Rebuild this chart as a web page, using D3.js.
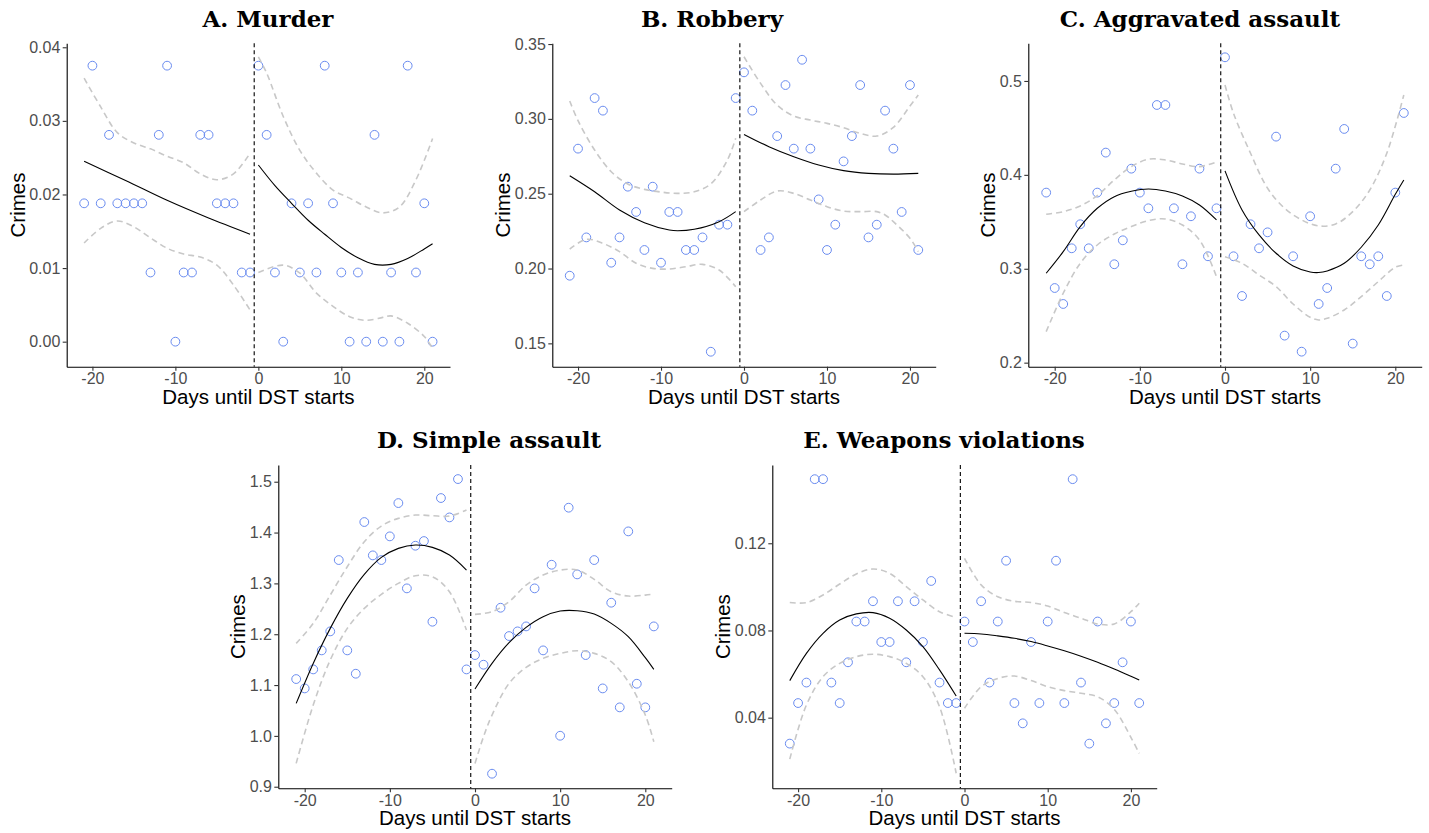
<!DOCTYPE html>
<html><head><meta charset="utf-8">
<script src="https://cdn.jsdelivr.net/npm/d3@7"></script>
<style>body{margin:0;background:#fff}</style>
</head><body><svg id="c" width="1429" height="833"></svg>
<script>
// ---------------- DATA ----------------
const days = [-21,-20,-19,-18,-17,-16,-15,-14,-13,-12,-11,-10,-9,-8,-7,-6,-5,-4,-3,-2,-1,
              0,1,2,3,4,5,6,7,8,9,10,11,12,13,14,15,16,17,18,19,20,21];
const xTicks = [-20,-10,0,10,20];
const cutoffDay = -0.5;

const murderCrimes = [0.0188,0.0375,0.0188,0.0281,0.0188,0.0188,0.0188,0.0188,0.0094,0.0281,0.0375,0,0.0094,0.0094,0.0281,0.0281,0.0188,0.0188,0.0188,0.0094,0.0094,
  0.0375,0.0281,0.0094,0,0.0188,0.0094,0.0188,0.0094,0.0375,0.0188,0.0094,0,0.0094,0,0.0281,0,0.0094,0,0.0375,0.0094,0.0188,0];
const robberyCrimes = [0.1952,0.2801,0.2208,0.3139,0.3055,0.2039,0.2208,0.2547,0.2378,0.2124,0.2547,0.2039,0.2378,0.2378,0.2124,0.2124,0.2208,0.1444,0.2293,0.2293,0.3139,
  0.3311,0.3055,0.2124,0.2208,0.2885,0.3226,0.2801,0.3395,0.2801,0.2462,0.2124,0.2293,0.2716,0.2885,0.3226,0.2208,0.2293,0.3055,0.2801,0.2378,0.3226,0.2124];
const aggCrimes = [0.3811,0.2795,0.2625,0.3218,0.3474,0.3218,0.3811,0.4237,0.3048,0.3303,0.4066,0.3811,0.3644,0.4744,0.4744,0.3644,0.3048,0.3559,0.4066,0.3133,0.3644,
  0.5252,0.3133,0.2710,0.3474,0.3218,0.3388,0.4407,0.2288,0.3133,0.2117,0.3559,0.2625,0.2795,0.4066,0.4489,0.2203,0.3133,0.3048,0.3133,0.2710,0.3811,0.4659];
const simpleCrimes = [1.1118,1.0934,1.1308,1.1682,1.2056,1.3459,1.1682,1.1223,1.4207,1.3551,1.3459,1.3925,1.4580,1.2902,1.3741,1.3833,1.2246,1.4679,1.4298,1.5052,1.1308,
  1.1590,1.1400,0.9256,1.2521,1.1964,1.2056,1.2154,1.2902,1.1682,1.3367,1.0003,1.4489,1.3177,1.1590,1.3459,1.0934,1.2620,1.0561,1.4023,1.1026,1.0561,1.2154];
const weaponsCrimes = [0.0281,0.0467,0.0561,0.1494,0.1494,0.0561,0.0467,0.0654,0.0841,0.0841,0.0934,0.0747,0.0747,0.0934,0.0654,0.0934,0.0747,0.1027,0.0561,0.0467,0.0467,
  0.0841,0.0747,0.0934,0.0561,0.0841,0.1120,0.0467,0.0374,0.0747,0.0467,0.0841,0.1120,0.0467,0.1494,0.0561,0.0281,0.0841,0.0374,0.0467,0.0654,0.0841,0.0467];

// fitted curves and confidence bounds, [day, value]
const murderFitPre  = [[-21,0.0245],[-16,0.0219],[-11,0.0192],[-6,0.0168],[-1,0.0146]];
const murderFitPost = [[0,0.0240],[2,0.0212],[4,0.0188],[6,0.0165],[8,0.0146],[10,0.0128],[12,0.0114],[14,0.0105],[16,0.0105],[18,0.0113],[20,0.0126],[21,0.0133]];
const murderHiPre   = [[-21,0.0358],[-19,0.0319],[-17,0.0284],[-15,0.0270],[-13,0.0262],[-11,0.0252],[-9,0.0243],[-7,0.0228],[-5,0.0220],[-3,0.0228],[-1,0.0256]];
const murderLoPre   = [[-21,0.0134],[-19,0.0154],[-17,0.0164],[-15,0.0156],[-13,0.0141],[-11,0.0127],[-9,0.0119],[-7,0.0115],[-5,0.0104],[-3,0.0077],[-1,0.0043]];
const murderHiPost  = [[0,0.0387],[1,0.0365],[3,0.0306],[5,0.0260],[7,0.0229],[9,0.0206],[11,0.0195],[13,0.0183],[15,0.0175],[17,0.0183],[19,0.0220],[21,0.0276]];
const murderLoPost  = [[0,0.0094],[3,0.0104],[5,0.0093],[7,0.0066],[9,0.0048],[11,0.0034],[13,0.0029],[15,0.0033],[16,0.0035],[18,0.0025],[20,0.0007],[21,-0.0009]];

const robberyFitPre  = [[-21,0.2620],[-18,0.2513],[-15,0.2391],[-12,0.2306],[-9,0.2257],[-8,0.2252],[-6,0.2262],[-3,0.2313],[-1,0.2380]];
const robberyFitPost = [[0,0.2896],[3,0.2814],[6,0.2747],[9,0.2692],[12,0.2654],[15,0.2636],[18,0.2631],[21,0.2636]];
const robberyHiPre   = [[-21,0.3119],[-20,0.2988],[-18,0.2792],[-16,0.2647],[-14,0.2565],[-12,0.2529],[-10,0.2511],[-8,0.2502],[-6,0.2513],[-4,0.2565],[-2,0.2725],[-1,0.2870]];
const robberyLoPre   = [[-21,0.2130],[-19,0.2195],[-17,0.2168],[-15,0.2113],[-13,0.2035],[-11,0.2001],[-9,0.1997],[-7,0.2012],[-5,0.2028],[-3,0.1990],[-1,0.1879]];
const robberyHiPost  = [[0,0.3415],[2,0.3237],[4,0.3092],[6,0.3019],[8,0.2992],[10,0.2970],[12,0.2941],[14,0.2903],[16,0.2885],[18,0.2943],[20,0.3086],[21,0.3159]];
const robberyLoPost  = [[0,0.2380],[2,0.2458],[4,0.2518],[6,0.2502],[8,0.2458],[10,0.2413],[12,0.2384],[14,0.2380],[16,0.2380],[17,0.2358],[18,0.2313],[20,0.2202],[21,0.2113]];

const aggFitPre  = [[-21,0.2952],[-19,0.3182],[-17,0.3449],[-15,0.3644],[-13,0.3768],[-11,0.3825],[-9,0.3850],[-7,0.3828],[-5,0.3775],[-3,0.3679],[-1,0.3520]];
const aggFitPost = [[0,0.4042],[2,0.3626],[4,0.3360],[6,0.3165],[8,0.3030],[10,0.2966],[11,0.2960],[12,0.2977],[14,0.3058],[16,0.3229],[18,0.3466],[20,0.3793],[21,0.3946]];
const aggHiPre   = [[-21,0.3580],[-19,0.3608],[-17,0.3669],[-15,0.3779],[-13,0.3946],[-11,0.4088],[-9,0.4166],[-7,0.4159],[-5,0.4116],[-3,0.4088],[-1,0.4137]];
const aggLoPre   = [[-21,0.2330],[-19,0.2739],[-17,0.3058],[-15,0.3253],[-13,0.3370],[-11,0.3449],[-9,0.3513],[-7,0.3530],[-5,0.3466],[-3,0.3307],[-1,0.2916]];
const aggHiPost  = [[0,0.4957],[1,0.4656],[3,0.4230],[5,0.3857],[7,0.3644],[9,0.3520],[11,0.3456],[13,0.3477],[15,0.3608],[17,0.3839],[19,0.4230],[21,0.4851]];
const aggLoPost  = [[0,0.3129],[2,0.3058],[4,0.2934],[6,0.2810],[8,0.2625],[10,0.2483],[11,0.2455],[12,0.2472],[14,0.2561],[16,0.2703],[18,0.2863],[20,0.3016],[21,0.3040]];

const simpleFitPre  = [[-21,1.0639],[-19,1.1426],[-17,1.2115],[-15,1.2705],[-13,1.3177],[-11,1.3511],[-9,1.3689],[-7,1.3754],[-5,1.3708],[-3,1.3557],[-1,1.3262]];
const simpleFitPost = [[0,1.0921],[2,1.1426],[4,1.1833],[6,1.2134],[8,1.2344],[10,1.2456],[12,1.2462],[14,1.2397],[16,1.2213],[18,1.1951],[20,1.1538],[21,1.1308]];
const simpleHiPre   = [[-21,1.1820],[-19,1.2213],[-17,1.2770],[-15,1.3328],[-13,1.3820],[-11,1.4128],[-9,1.4279],[-7,1.4344],[-5,1.4331],[-3,1.4325],[-1,1.4443]];
const simpleLoPre   = [[-21,0.9459],[-19,1.0607],[-17,1.1492],[-15,1.2115],[-13,1.2508],[-11,1.2784],[-9,1.3000],[-7,1.3151],[-5,1.3131],[-3,1.2836],[-1,1.2082]];
const simpleHiPost  = [[0,1.2390],[2,1.2443],[4,1.2639],[6,1.2967],[8,1.3164],[10,1.3262],[12,1.3262],[14,1.3079],[16,1.2836],[18,1.2751],[20,1.2770],[21,1.2790]];
const simpleLoPost  = [[0,0.9459],[1,0.9984],[2,1.0410],[4,1.1033],[6,1.1348],[8,1.1525],[10,1.1623],[12,1.1675],[14,1.1623],[16,1.1459],[18,1.1066],[20,1.0410],[21,0.9885]];

const weaponsFitPre  = [[-21,0.0570],[-19,0.0695],[-17,0.0787],[-15,0.0848],[-13,0.0876],[-11,0.0882],[-9,0.0856],[-7,0.0802],[-5,0.0726],[-3,0.0619],[-1,0.0499]];
const weaponsFitPost = [[0,0.0787],[2,0.0784],[4,0.0775],[6,0.0764],[8,0.0749],[10,0.0729],[12,0.0707],[14,0.0682],[16,0.0654],[18,0.0623],[20,0.0590],[21,0.0573]];
const weaponsHiPre   = [[-21,0.0928],[-19,0.0928],[-17,0.0963],[-15,0.1013],[-13,0.1059],[-11,0.1082],[-9,0.1062],[-7,0.1001],[-5,0.0940],[-3,0.0886],[-1,0.0860]];
const weaponsLoPre   = [[-21,0.0210],[-19,0.0458],[-17,0.0588],[-15,0.0649],[-13,0.0680],[-11,0.0691],[-9,0.0680],[-7,0.0649],[-5,0.0588],[-3,0.0450],[-1,0.0145]];
const weaponsHiPost  = [[0,0.1131],[2,0.1009],[4,0.0955],[6,0.0934],[8,0.0928],[10,0.0912],[12,0.0882],[14,0.0856],[16,0.0830],[18,0.0830],[20,0.0886],[21,0.0925]];
const weaponsLoPost  = [[0,0.0443],[2,0.0542],[4,0.0580],[6,0.0591],[8,0.0570],[10,0.0542],[12,0.0524],[14,0.0512],[16,0.0496],[18,0.0438],[20,0.0310],[21,0.0236]];

const murderTicks  = [0,0.01,0.02,0.03,0.04];
const robberyTicks = [0.15,0.20,0.25,0.30,0.35];
const aggTicks     = [0.2,0.3,0.4,0.5];
const simpleTicks  = [0.9,1.0,1.1,1.2,1.3,1.4,1.5];
const weaponsTicks = [0.04,0.08,0.12];

// ---------------- LAYOUT ----------------
const xDomain = [-23.1, 23.1];
const panels = [
  {title:'A. Murder', tx:268, ty:27, L:66.7, R:450, T:43.3, B:366.7, yDom:[-0.0034,0.04054], ticks:murderTicks, fmt:'.2f', ylx:25,
   vals:murderCrimes, fits:[murderFitPre,murderFitPost], cis:[murderHiPre,murderLoPre,murderHiPost,murderLoPost]},
  {title:'B. Robbery', tx:712, ty:27, L:552.3, R:935.7, T:43.3, B:366.7, yDom:[0.1344,0.3505], ticks:robberyTicks, fmt:'.2f', ylx:510,
   vals:robberyCrimes, fits:[robberyFitPre,robberyFitPost], cis:[robberyHiPre,robberyLoPre,robberyHiPost,robberyLoPost]},
  {title:'C. Aggravated assault', tx:1200, ty:27, L:1028.3, R:1421.7, T:43.3, B:366.7, yDom:[0.1957,0.5401], ticks:aggTicks, fmt:'.1f', ylx:995,
   vals:aggCrimes, fits:[aggFitPre,aggFitPost], cis:[aggHiPre,aggLoPre,aggHiPost,aggLoPost]},
  {title:'D. Simple assault', tx:489, ty:448, L:278.3, R:671.7, T:465, B:788.3, yDom:[0.8969,1.5329], ticks:simpleTicks, fmt:'.1f', ylx:245,
   vals:simpleCrimes, fits:[simpleFitPre,simpleFitPost], cis:[simpleHiPre,simpleLoPre,simpleHiPost,simpleLoPost]},
  {title:'E. Weapons violations', tx:944, ty:448, L:772.3, R:1156.7, T:465, B:788.3, yDom:[0.0076,0.1559], ticks:weaponsTicks, fmt:'.2f', ylx:730,
   vals:weaponsCrimes, fits:[weaponsFitPre,weaponsFitPost], cis:[weaponsHiPre,weaponsLoPre,weaponsHiPost,weaponsLoPost]}
];

const svg = d3.select('#c');
const SANS = '"Liberation Sans", Arial, Helvetica, sans-serif';

panels.forEach(p => {
  const g = svg.append('g');
  const x = d3.scaleLinear().domain(xDomain).range([p.L, p.R]);
  const y = d3.scaleLinear().domain(p.yDom).range([p.B, p.T]);
  const line = d3.line().x(d => x(d[0])).y(d => y(d[1])).curve(d3.curveCatmullRom.alpha(0.5));

  // points
  g.append('g').selectAll('circle').data(days.map((d,i) => [d, p.vals[i]])).join('circle')
    .attr('cx', d => x(d[0])).attr('cy', d => y(d[1])).attr('r', 4.4)
    .attr('fill', 'none').attr('stroke', '#6a8cf0').attr('stroke-width', 1);

  // CI bounds
  p.cis.forEach(c => g.append('path').attr('d', line(c)).attr('fill','none')
    .attr('stroke','#c8c8c8').attr('stroke-width',1.6).attr('stroke-dasharray','6,4'));
  // fits
  p.fits.forEach(c => g.append('path').attr('d', line(c)).attr('fill','none')
    .attr('stroke','#000').attr('stroke-width',1.1));
  // cutoff
  g.append('line').attr('x1', x(cutoffDay)).attr('x2', x(cutoffDay)).attr('y1', p.T).attr('y2', p.B)
    .attr('stroke','#000').attr('stroke-width',1.1).attr('stroke-dasharray','4,3');

  // axes
  const xa = g.append('g').attr('transform', `translate(0,${p.B})`)
    .call(d3.axisBottom(x).tickValues(xTicks).tickFormat(d => String(d)).tickSize(4).tickSizeOuter(0).tickPadding(2.2));
  const ya = g.append('g').attr('transform', `translate(${p.L},0)`)
    .call(d3.axisLeft(y).tickValues(p.ticks).tickFormat(d3.format(p.fmt)).tickSize(4).tickSizeOuter(0).tickPadding(2.4));
  [xa, ya].forEach(a => {
    a.select('.domain').attr('stroke','#000').attr('stroke-width',1.1);
    a.selectAll('.tick line').attr('stroke','#333').attr('stroke-width',1.1);
    a.selectAll('.tick text').attr('fill','#4d4d4d').style('font-family', SANS).style('font-size','16px');
  });

  // axis titles
  g.append('text').attr('x', (p.L + p.R) / 2).attr('y', p.B + 37).attr('text-anchor','middle')
    .style('font-family', SANS).style('font-size','20.5px').attr('fill','#000').text('Days until DST starts');
  g.append('text').attr('transform', `translate(${p.ylx},${(p.T + p.B) / 2}) rotate(-90)`).attr('text-anchor','middle')
    .style('font-family', SANS).style('font-size','20.5px').attr('fill','#000').text('Crimes');

  // title
  g.append('text').attr('x', p.tx).attr('y', p.ty).attr('text-anchor','middle')
    .style('font-family','"DejaVu Serif", serif').style('font-weight','bold').style('font-size','23px')
    .attr('fill','#000').text(p.title);
});
</script>
</body></html>
